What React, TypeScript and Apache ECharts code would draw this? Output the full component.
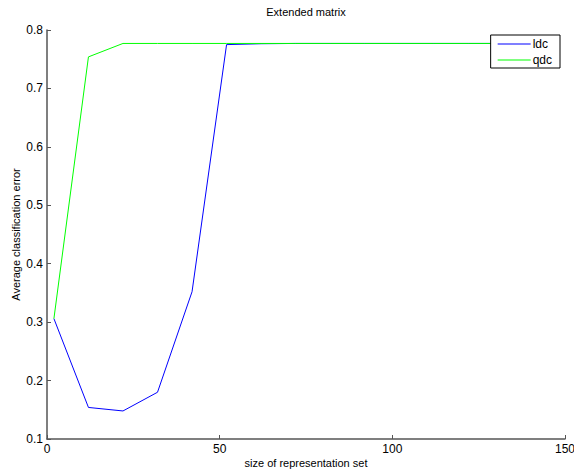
import React, { useEffect, useRef } from "react";
import * as echarts from "echarts";

const xValues = [2, 12, 22, 32, 42, 52, 62, 72, 82, 92, 102, 112, 122, 132, 142];
const ldcValues = [0.306, 0.154, 0.148, 0.18, 0.352, 0.775, 0.7765, 0.777, 0.777, 0.777, 0.777, 0.777, 0.777, 0.777, 0.777];
const qdcValues = [0.306, 0.754, 0.777, 0.777, 0.777, 0.777, 0.777, 0.777, 0.777, 0.777, 0.777, 0.777, 0.777, 0.777, 0.777];
const seriesNames = ["ldc", "qdc"];
const titleText = "Extended matrix";
const xName = "size of representation set";
const yName = "Average classification error";

const FONT = "Liberation Sans, Arial, sans-serif";

export default function App() {
  const ref = useRef<HTMLDivElement>(null);
  useEffect(() => {
    if (!ref.current) return;
    const chart = echarts.init(ref.current, undefined, { renderer: "svg" });
    const axisLine = { show: true, lineStyle: { color: "#555", width: 1.5 } };
    chart.setOption({
      animation: false,
      backgroundColor: "#fff",
      textStyle: { fontFamily: FONT },
      graphic: [
        {
          type: "text",
          x: 306,
          y: 6,
          style: { text: titleText, fill: "#000", font: `11px ${FONT}`, textAlign: "center" },
        },
      ],
      legend: {
        orient: "vertical",
        right: 14,
        top: 35,
        backgroundColor: "#fff",
        borderColor: "#000",
        borderWidth: 1,
        borderRadius: 0,
        padding: [3, 8, 2, 7],
        itemGap: 4,
        itemWidth: 33,
        itemHeight: 1,
        icon: "rect",
        textStyle: { fontSize: 12, color: "#000", fontFamily: FONT, padding: [0, 0, 0, -3] },
        data: seriesNames,
      },
      grid: { left: 47, right: 9, top: 30, bottom: 30, containLabel: false, outerBoundsMode: "none" },
      xAxis: {
        type: "value",
        min: 0,
        max: 150,
        interval: 50,
        name: xName,
        nameLocation: "middle",
        nameGap: 18,
        nameMoveOverlap: false,
        nameTextStyle: { fontSize: 11, color: "#000", fontFamily: FONT, lineHeight: 12 },
        axisLine,
        axisTick: { show: true, inside: true, length: 4, lineStyle: { color: "#555" } },
        axisLabel: { fontSize: 12, color: "#000", margin: 4, fontFamily: FONT },
        splitLine: { show: false },
      },
      yAxis: {
        type: "value",
        min: 0.1,
        max: 0.8,
        interval: 0.1,
        name: yName,
        nameLocation: "middle",
        nameGap: 26,
        nameMoveOverlap: false,
        nameTextStyle: { fontSize: 11, color: "#000", fontFamily: FONT },
        axisLine,
        axisTick: { show: true, inside: true, length: 4, lineStyle: { color: "#555" } },
        axisLabel: { fontSize: 12, color: "#000", margin: 4, fontFamily: FONT },
        splitLine: { show: false },
      },
      series: [
        {
          name: seriesNames[0],
          type: "line",
          data: xValues.map((x, i) => [x, ldcValues[i]]),
          symbol: "none",
          lineStyle: { color: "#0000ff", width: 1 },
          itemStyle: { color: "#0000ff" },
        },
        {
          name: seriesNames[1],
          type: "line",
          data: xValues.map((x, i) => [x, qdcValues[i]]),
          symbol: "none",
          lineStyle: { color: "#00ff00", width: 1 },
          itemStyle: { color: "#00ff00" },
        },
      ],
    });
    return () => chart.dispose();
  }, []);
  return (
    <div
      ref={ref}
      style={{ position: "fixed", left: 0, top: 0, width: 574, height: 469 }}
    />
  );
}
